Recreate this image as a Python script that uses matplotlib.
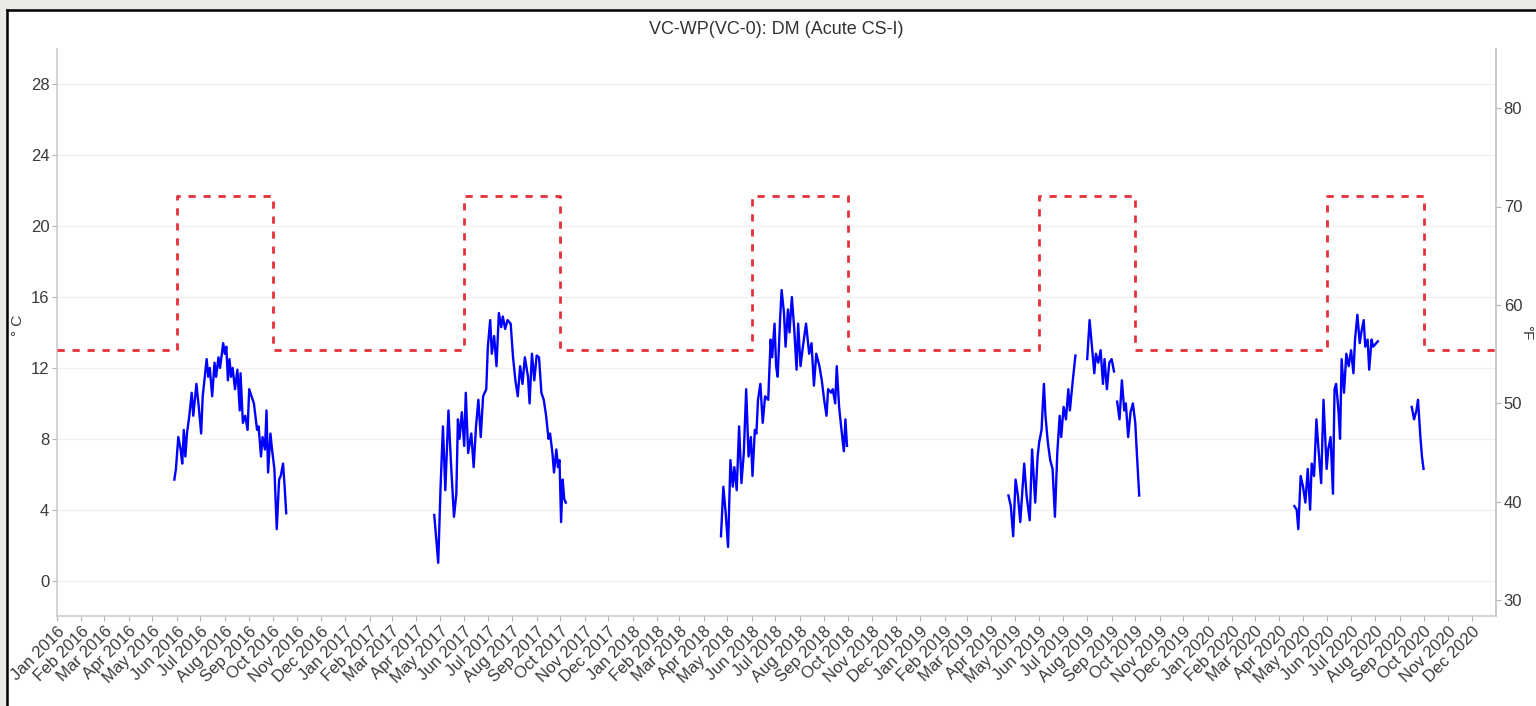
import numpy as np
import pandas as pd
import matplotlib
matplotlib.use("Agg")
import matplotlib.pyplot as plt
import matplotlib.dates as mdates
from matplotlib.patches import Rectangle
from matplotlib.lines import Line2D

plt.rcParams['font.family'] = ['Liberation Sans', 'DejaVu Sans']

# daily water temperature (deg C), one segment per stretch of record
s2016_dates = ["2016-05-29", "2016-05-31", "2016-06-03", "2016-06-06", "2016-06-08", "2016-06-10",
               "2016-06-12", "2016-06-14", "2016-06-17", "2016-06-20", "2016-06-22", "2016-06-26",
               "2016-06-29", "2016-07-02", "2016-07-04", "2016-07-09", "2016-07-11", "2016-07-13",
               "2016-07-16", "2016-07-19", "2016-07-21", "2016-07-24", "2016-07-26", "2016-07-30",
               "2016-08-01", "2016-08-03", "2016-08-05", "2016-08-07", "2016-08-09", "2016-08-11",
               "2016-08-14", "2016-08-17", "2016-08-20", "2016-08-21", "2016-08-24", "2016-08-27",
               "2016-08-30", "2016-09-01", "2016-09-04", "2016-09-07", "2016-09-11", "2016-09-13",
               "2016-09-16", "2016-09-18", "2016-09-21", "2016-09-23", "2016-09-25", "2016-09-28",
               "2016-09-30", "2016-10-03", "2016-10-06", "2016-10-09", "2016-10-11", "2016-10-14",
               "2016-10-16", "2016-10-18"]
s2016_temp = [5.7, 6.3, 8.1, 7.4, 6.6, 8.5, 7.0, 8.3, 9.3, 10.6, 9.3, 11.1, 9.8, 8.3, 10.4, 12.5,
              11.5, 12.0, 10.4, 12.3, 11.5, 12.6, 12.0, 13.4, 12.8, 13.2, 11.3, 12.5, 11.5, 12.0,
              10.8, 11.9, 9.6, 11.7, 8.9, 9.3, 8.5, 10.8, 10.4, 10.0, 8.5, 8.7, 7.0, 8.1, 7.4, 9.6,
              6.1, 8.3, 7.4, 6.3, 2.9, 5.7, 5.9, 6.6, 5.3, 3.8]

s2017_dates = ["2017-04-24", "2017-04-29", "2017-05-02", "2017-05-05", "2017-05-08", "2017-05-12",
               "2017-05-15", "2017-05-19", "2017-05-22", "2017-05-24", "2017-05-26", "2017-05-29",
               "2017-06-01", "2017-06-03", "2017-06-06", "2017-06-10", "2017-06-13", "2017-06-16",
               "2017-06-19", "2017-06-22", "2017-06-25", "2017-06-29", "2017-07-01", "2017-07-04",
               "2017-07-06", "2017-07-09", "2017-07-12", "2017-07-15", "2017-07-18", "2017-07-20",
               "2017-07-23", "2017-07-26", "2017-07-30", "2017-08-02", "2017-08-05", "2017-08-08",
               "2017-08-11", "2017-08-14", "2017-08-17", "2017-08-21", "2017-08-23", "2017-08-26",
               "2017-08-29", "2017-09-01", "2017-09-04", "2017-09-07", "2017-09-10", "2017-09-13",
               "2017-09-16", "2017-09-18", "2017-09-21", "2017-09-23", "2017-09-26", "2017-09-28",
               "2017-09-30", "2017-10-02", "2017-10-04", "2017-10-06", "2017-10-08"]
s2017_temp = [3.7, 1.0, 5.3, 8.7, 5.1, 9.6, 6.8, 3.6, 4.9, 9.1, 8.0, 9.5, 7.6, 10.6, 7.2, 8.3,
              6.4, 8.7, 10.2, 8.1, 10.4, 10.8, 13.2, 14.7, 12.8, 13.8, 12.1, 15.1, 14.3, 14.9,
              14.2, 14.7, 14.5, 12.6, 11.3, 10.4, 12.1, 11.1, 12.6, 11.5, 10.0, 12.8, 11.3, 12.7,
              12.6, 10.6, 10.2, 9.3, 8.0, 8.3, 7.2, 6.1, 7.4, 6.4, 6.8, 3.3, 5.7, 4.6, 4.4]

s2018_dates = ["2018-04-23", "2018-04-26", "2018-04-29", "2018-05-02", "2018-05-05", "2018-05-08",
               "2018-05-10", "2018-05-13", "2018-05-16", "2018-05-19", "2018-05-22", "2018-05-25",
               "2018-05-28", "2018-05-31", "2018-06-02", "2018-06-05", "2018-06-07", "2018-06-09",
               "2018-06-12", "2018-06-15", "2018-06-18", "2018-06-22", "2018-06-25", "2018-06-27",
               "2018-06-30", "2018-07-02", "2018-07-04", "2018-07-07", "2018-07-09", "2018-07-12",
               "2018-07-14", "2018-07-17", "2018-07-19", "2018-07-22", "2018-07-25", "2018-07-28",
               "2018-07-30", "2018-08-02", "2018-08-05", "2018-08-09", "2018-08-13", "2018-08-16",
               "2018-08-19", "2018-08-22", "2018-08-26", "2018-08-29", "2018-09-01", "2018-09-04",
               "2018-09-06", "2018-09-10", "2018-09-12", "2018-09-15", "2018-09-17", "2018-09-20",
               "2018-09-23", "2018-09-26", "2018-09-28", "2018-09-30"]
s2018_temp = [2.5, 5.3, 3.8, 1.9, 6.8, 5.3, 6.4, 5.1, 8.7, 5.5, 7.2, 10.8, 7.0, 8.1, 5.9, 8.5,
              8.3, 10.2, 11.1, 8.9, 10.4, 10.2, 13.6, 12.6, 14.5, 12.1, 11.5, 14.7, 16.4, 15.1,
              13.2, 15.3, 14.0, 16.0, 14.2, 11.9, 14.5, 12.1, 13.2, 14.5, 12.8, 13.4, 11.0, 12.8,
              12.1, 11.3, 10.2, 9.3, 10.8, 10.6, 10.8, 10.0, 12.1, 9.8, 8.5, 7.3, 9.1, 7.6]

s2019a_dates = ["2019-04-23", "2019-04-26", "2019-04-29", "2019-05-02", "2019-05-05", "2019-05-08",
                "2019-05-13", "2019-05-16", "2019-05-20", "2019-05-23", "2019-05-27", "2019-05-30",
                "2019-06-01", "2019-06-04", "2019-06-07", "2019-06-09", "2019-06-12", "2019-06-15",
                "2019-06-18", "2019-06-21", "2019-06-24", "2019-06-27", "2019-06-29", "2019-07-02",
                "2019-07-05", "2019-07-08", "2019-07-10", "2019-07-13", "2019-07-17"]
s2019a_temp = [4.8, 4.2, 2.5, 5.7, 4.8, 3.3, 6.6, 4.8, 3.4, 7.4, 4.4, 7.0, 7.8, 8.5, 11.1, 9.3,
               7.8, 6.8, 6.3, 3.6, 7.2, 9.3, 8.1, 9.8, 9.1, 10.8, 9.6, 11.0, 12.7]

s2019b_dates = ["2019-08-01", "2019-08-04", "2019-08-07", "2019-08-10", "2019-08-12", "2019-08-15",
                "2019-08-18", "2019-08-21", "2019-08-23", "2019-08-26", "2019-08-29", "2019-09-01",
                "2019-09-04"]
s2019b_temp = [12.5, 14.7, 13.2, 11.7, 12.8, 12.3, 13.0, 11.1, 12.5, 10.8, 12.3, 12.5, 11.8]

s2019c_dates = ["2019-09-08", "2019-09-11", "2019-09-14", "2019-09-17", "2019-09-19", "2019-09-22",
                "2019-09-25", "2019-09-28", "2019-10-01", "2019-10-03", "2019-10-06"]
s2019c_temp = [10.1, 9.1, 11.3, 9.6, 10.0, 8.1, 9.5, 10.0, 8.9, 7.2, 4.8]

s2020a_dates = ["2020-04-20", "2020-04-23", "2020-04-25", "2020-04-28", "2020-05-01", "2020-05-04",
                "2020-05-07", "2020-05-10", "2020-05-12", "2020-05-15", "2020-05-18", "2020-05-20",
                "2020-05-24", "2020-05-27", "2020-05-31", "2020-06-02", "2020-06-05", "2020-06-08",
                "2020-06-10", "2020-06-12", "2020-06-15", "2020-06-17", "2020-06-19", "2020-06-22",
                "2020-06-25", "2020-06-28", "2020-07-01", "2020-07-04", "2020-07-06", "2020-07-09",
                "2020-07-12", "2020-07-14", "2020-07-17", "2020-07-19", "2020-07-22", "2020-07-24",
                "2020-07-27", "2020-07-29", "2020-08-02", "2020-08-04"]
s2020a_temp = [4.2, 4.0, 2.9, 5.9, 5.3, 4.4, 6.3, 4.0, 6.6, 5.9, 9.1, 7.8, 5.5, 10.2, 6.3, 7.4,
               8.1, 4.9, 10.8, 11.1, 9.6, 8.0, 12.5, 10.6, 12.8, 12.1, 13.0, 11.7, 13.6, 15.0,
               13.4, 14.0, 14.7, 13.2, 13.6, 11.9, 13.6, 13.2, 13.4, 13.5]

s2020b_dates = ["2020-09-16", "2020-09-19", "2020-09-22", "2020-09-24", "2020-09-27", "2020-09-29",
                "2020-10-01"]
s2020b_temp = [9.8, 9.1, 9.6, 10.2, 8.1, 7.0, 6.3]

# criterion (deg C): lower Oct-May, higher Jun-Sep
limit_dates = ["2016-01-01", "2016-06-01", "2016-10-01", "2017-06-01", "2017-10-01",
               "2018-06-01", "2018-10-01", "2019-06-01", "2019-10-01", "2020-06-01",
               "2020-10-01", "2021-01-01"]
limit_temp = [13, 21.7, 13, 21.7, 13, 21.7, 13, 21.7, 13, 21.7, 13, 13]

title = "VC-WP(VC-0): DM (Acute CS-I)"
c_ticks = [0, 4, 8, 12, 16, 20, 24, 28]
f_ticks = [30, 40, 50, 60, 70, 80]

segments = [(s2016_dates, s2016_temp), (s2017_dates, s2017_temp), (s2018_dates, s2018_temp),
            (s2019a_dates, s2019a_temp), (s2019b_dates, s2019b_temp), (s2019c_dates, s2019c_temp),
            (s2020a_dates, s2020a_temp), (s2020b_dates, s2020b_temp)]

W, H = 1536, 706
fig = plt.figure(figsize=(W / 100, H / 100), dpi=100)
fig.patch.set_facecolor('#e9ebe7')
# white card with black left/top border
fig.patches.append(Rectangle((7 / W, 0), 1, 1 - 10 / H, transform=fig.transFigure,
                             facecolor='white', edgecolor='none', zorder=-10))
fig.lines.append(Line2D([7 / W, 7 / W], [0, 1 - 10 / H], transform=fig.transFigure,
                        color='black', lw=1.8))
fig.lines.append(Line2D([7 / W, 1], [1 - 10 / H, 1 - 10 / H], transform=fig.transFigure,
                        color='black', lw=1.8))

ax = fig.add_axes([57 / W, 1 - 616 / H, (1496 - 57) / W, (616 - 49) / H])
ax.set_facecolor('white')

for d, t in segments:
    ax.plot(pd.to_datetime(d), t, color='#0000ff', lw=1.7, zorder=3)

ax.step(pd.to_datetime(limit_dates), limit_temp, where='post', color='#e6303a',
        lw=2.0, dashes=(2.6, 2.8), zorder=4)

ax.set_xlim(pd.Timestamp("2016-01-01"), pd.Timestamp("2021-01-01"))
ax.set_ylim(-2, 30)
ax.set_yticks(c_ticks)
ax.set_xticks(pd.date_range("2016-01-01", "2020-12-01", freq="MS"))
ax.xaxis.set_major_formatter(mdates.DateFormatter("%b %Y"))

ax.yaxis.grid(True, color='#f0f0f0', lw=0.9)
ax.set_axisbelow(True)

for s in ['left', 'bottom', 'right']:
    ax.spines[s].set_color('#c8c8c8')
    ax.spines[s].set_linewidth(1.1)
ax.spines['top'].set_visible(False)

ax.tick_params(axis='both', length=3.5, color='#b5b5b5', labelsize=12,
               labelcolor='#3a3a3a', pad=2)
plt.setp(ax.get_xticklabels(), rotation=45, ha='right', va='top', rotation_mode='anchor')

ax2 = ax.twinx()
ax2.set_ylim(-2 * 9 / 5 + 32, 30 * 9 / 5 + 32)
ax2.set_yticks(f_ticks)
for s in ['left', 'bottom', 'top']:
    ax2.spines[s].set_visible(False)
ax2.spines['right'].set_color('#c8c8c8')
ax2.spines['right'].set_linewidth(1.1)
ax2.tick_params(axis='y', length=3.5, color='#b5b5b5', labelsize=12,
                labelcolor='#3a3a3a', pad=2)

fig.text(776 / W, 1 - 30 / H, title, ha='center', va='center', fontsize=13, color='#333333')
fig.text(18 / W, 1 - 325 / H, "° C", rotation=90, ha='center', va='center',
         fontsize=11, color='#3a3a3a')
fig.text(1526 / W, 1 - 333 / H, "°F", rotation=270, ha='center', va='center',
         fontsize=11, color='#3a3a3a')

fig.savefig("out.png", dpi=100, facecolor=fig.get_facecolor())
